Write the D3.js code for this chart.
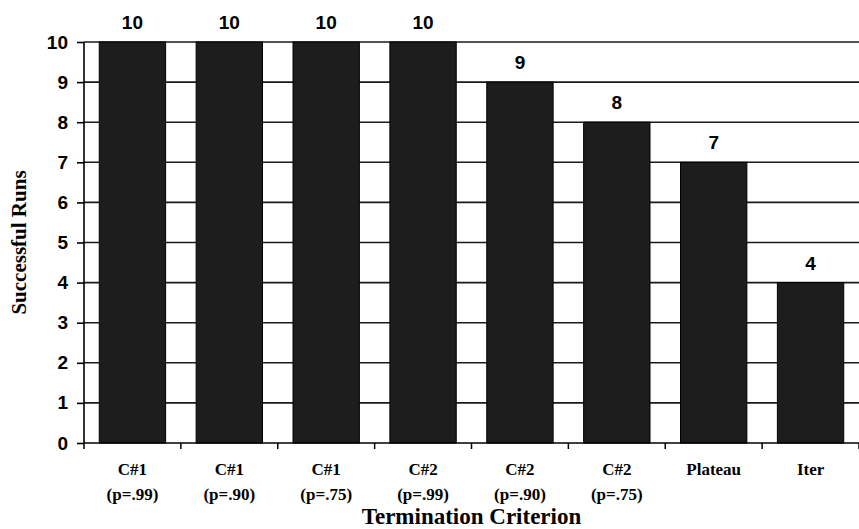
<!DOCTYPE html>
<html><head><meta charset="utf-8">
<script src="https://cdn.jsdelivr.net/npm/d3@7"></script>
<style>body{margin:0;background:#fff}svg{display:block}</style>
</head><body>
<script>
const categories = [["C#1","(p=.99)"],["C#1","(p=.90)"],["C#1","(p=.75)"],["C#2","(p=.99)"],["C#2","(p=.90)"],["C#2","(p=.75)"],["Plateau"],["Iter"]];
const values = [10,10,10,10,9,8,7,4];
const yTicks = [0,1,2,3,4,5,6,7,8,9,10];
const xTitle = "Termination Criterion";
const yTitle = "Successful Runs";

const W = 859, H = 529;
const m = {left: 84, right: 0, top: 42, bottom: 86};
const svg = d3.select("body").append("svg").attr("width", W).attr("height", H);

const x = d3.scaleBand().domain(d3.range(categories.length)).range([m.left, W - m.right]).paddingInner(0.315).paddingOuter(0.1575);
const y = d3.scaleLinear().domain([0, 10]).range([H - m.bottom, m.top]);

const sans = "Liberation Sans, Arial, sans-serif";
const serif = "Liberation Serif, Times New Roman, serif";

// gridlines
svg.append("g").selectAll("line").data(yTicks.filter(d => d > 0)).join("line")
  .attr("x1", m.left).attr("x2", W).attr("y1", d => y(d)).attr("y2", d => y(d))
  .attr("stroke", "#1a1a1a").attr("stroke-width", 1.6);

// bars
svg.append("g").selectAll("rect").data(values).join("rect")
  .attr("x", (d, i) => x(i)).attr("width", x.bandwidth())
  .attr("y", d => y(d)).attr("height", d => y(0) - y(d))
  .attr("fill", "#1d1d1d").attr("stroke", "#000").attr("stroke-width", 1);

// value labels
svg.append("g").selectAll("text").data(values).join("text")
  .attr("x", (d, i) => x(i) + x.bandwidth() / 2).attr("y", d => y(d) - 13)
  .attr("text-anchor", "middle")
  .attr("font-family", sans).attr("font-weight", "bold").attr("font-size", 19)
  .text(d => d);

// y axis
const yAxis = svg.append("g").attr("transform", `translate(${m.left},0)`)
  .call(d3.axisLeft(y).tickValues(yTicks).tickSize(7).tickPadding(9).tickFormat(d3.format("d")));
yAxis.select(".domain").attr("stroke", "#000").attr("stroke-width", 1.6).attr("d", `M0,${y(10)}V${y(0)}`);
yAxis.selectAll(".tick line").attr("stroke", "#000").attr("stroke-width", 1.6);
yAxis.selectAll(".tick text").attr("font-family", sans).attr("font-weight", "bold").attr("font-size", 19).attr("fill", "#000");

// x axis baseline and ticks at band boundaries
const step = x.step();
const boundaries = d3.range(categories.length + 1).map(i => m.left + i * step);
svg.append("line").attr("x1", m.left).attr("x2", W).attr("y1", y(0)).attr("y2", y(0)).attr("stroke", "#000").attr("stroke-width", 1.6);
svg.append("g").selectAll("line").data(boundaries).join("line")
  .attr("x1", d => d).attr("x2", d => d).attr("y1", y(0)).attr("y2", y(0) + 6)
  .attr("stroke", "#000").attr("stroke-width", 1.5);

// x labels
const xl = svg.append("g").selectAll("text").data(categories).join("text")
  .attr("text-anchor", "middle")
  .attr("font-family", serif).attr("font-weight", "bold").attr("font-size", 17)
  .attr("fill", "#000");
xl.each(function(d, i) {
  const t = d3.select(this);
  d.forEach((line, j) => {
    t.append("tspan").attr("x", x(i) + x.bandwidth() / 2).attr("y", y(0) + 32 + j * 25).text(line);
  });
});

// axis titles
svg.append("text").attr("x", (m.left + W) / 2).attr("y", 524).attr("text-anchor", "middle")
  .attr("font-family", serif).attr("font-weight", "bold").attr("font-size", 23)
  .text(xTitle);
svg.append("text").attr("transform", `translate(26,${(y(0) + y(10)) / 2}) rotate(-90)`).attr("text-anchor", "middle")
  .attr("font-family", serif).attr("font-weight", "bold").attr("font-size", 21)
  .text(yTitle);
</script>
</body></html>
